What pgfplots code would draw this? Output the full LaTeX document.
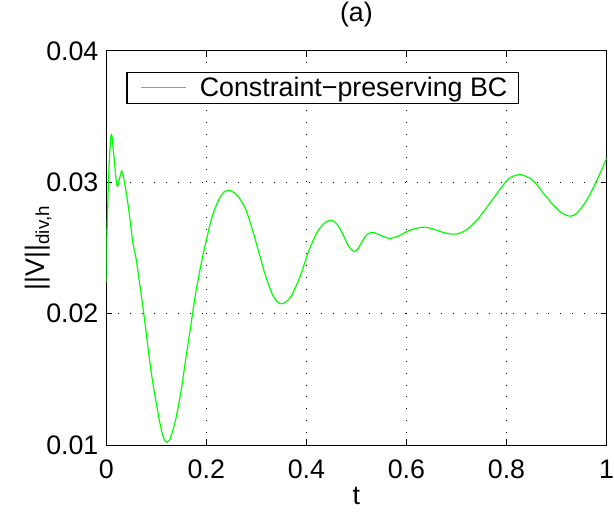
\documentclass[border=0pt]{standalone}
\usepackage{fontspec}
\setmainfont{Liberation Sans}
\usepackage{pgfplots}
\pgfplotsset{compat=1.18}

\definecolor{bcgreen}{RGB}{0,255,0}
\tikzset{bcline/.style={draw=bcgreen, color=bcgreen, line width=1.2bp}}

% divergence norm of V versus time
\pgfplotstableread{
t v
0.0000 0.0224
0.0013 0.0259
0.0053 0.0310
0.0100 0.03364
0.0150 0.0321
0.0211 0.02977
0.0260 0.0302
0.0310 0.03086
0.0350 0.0303
0.0398 0.02922
0.0450 0.0279
0.0497 0.02644
0.0529 0.02543
0.0597 0.02417
0.0663 0.0224
0.0728 0.02063
0.0796 0.01861
0.0862 0.01659
0.0927 0.01483
0.0995 0.01331
0.1060 0.01192
0.1126 0.01078
0.1170 0.01038
0.1214 0.01023
0.1255 0.01035
0.1293 0.01066
0.1393 0.01205
0.1492 0.01407
0.1590 0.01659
0.1690 0.01911
0.1790 0.02164
0.1890 0.02366
0.1990 0.02543
0.2121 0.02745
0.2254 0.02871
0.2350 0.02925
0.2453 0.02939
0.2560 0.02920
0.2652 0.02884
0.2786 0.02795
0.2917 0.02644
0.3050 0.02467
0.3183 0.02290
0.3315 0.02152
0.3420 0.02090
0.3514 0.02076
0.3610 0.02095
0.3713 0.02145
0.3880 0.02290
0.4045 0.02475
0.4200 0.02610
0.4310 0.02669
0.4400 0.02700
0.4497 0.02712
0.4590 0.02690
0.4676 0.02644
0.4760 0.02580
0.4840 0.02517
0.4910 0.02485
0.4974 0.02474
0.5040 0.02500
0.5106 0.02543
0.5200 0.02598
0.5305 0.02619
0.5400 0.02610
0.5503 0.02593
0.5670 0.02573
0.5836 0.02591
0.6020 0.02627
0.6200 0.02650
0.6367 0.02659
0.6530 0.02645
0.6697 0.02623
0.6850 0.02608
0.6996 0.02606
0.7110 0.02620
0.7228 0.02647
0.7427 0.02720
0.7626 0.02820
0.7825 0.02922
0.8024 0.03020
0.8160 0.03050
0.8290 0.03058
0.8420 0.03040
0.8555 0.03005
0.8754 0.02909
0.8953 0.02820
0.9119 0.02763
0.9272 0.02742
0.9370 0.02755
0.9450 0.02783
0.9616 0.02871
0.9816 0.03023
1.0000 0.03180
}\normtable

\begin{document}
\begin{tikzpicture}[font=\fontsize{27}{32}\selectfont]
\begin{axis}[
  scale only axis,
  width=502.3bp, height=396bp,
  xmin=0, xmax=1, ymin=0.01, ymax=0.04,
  xtick={0,0.2,0.4,0.6,0.8,1},
  ytick={0.01,0.02,0.03,0.04},
  yticklabels={0.01,0.02,0.03,0.04},
  scaled y ticks=false,
  scaled x ticks=false,
  /pgf/number format/assume math mode=true,
  xticklabel style={anchor=base, inner sep=0bp, yshift=-33bp},
  yticklabel style={anchor=east, inner sep=0bp, xshift=-7.7bp},
  tick align=inside,
  major tick length=6bp,
  tick style={black, line width=0.8bp},
  axis line style={black, line width=1.2bp},
  grid=major,
  major grid style={black, line width=0.9bp, dash pattern=on 0.9bp off 11.1bp},
  xlabel={t},
  ylabel={||V||\textsubscript{div,h}},
  title={(a)},
  xlabel style={at={(axis description cs:0.5,0)}, anchor=base, inner sep=0bp, yshift=-60bp},
  ylabel style={at={(axis description cs:-0.109,0.5)}, anchor=south, inner sep=0bp},
  title style={at={(axis description cs:0.5,1)}, anchor=base, inner sep=0bp, yshift=23bp},
  legend style={at={(axis description cs:0.0404,0.947)}, anchor=north west,
    draw=black, line width=1.2bp, fill=white,
    inner xsep=0bp, inner ysep=5bp,
    nodes={inner xsep=0bp, inner ysep=0bp},
    font=\fontsize{27}{32}\selectfont},
  legend cell align=left,
  legend image code/.code={\draw[bcline] (14bp,0bp) -- (59bp,0bp);
    \path[draw=none] (0bp,0bp) -- (73bp,0bp);},
]
\addplot[bcline, smooth] table[x=t, y=v] {\normtable};
\addlegendentry{Constraint−preserving BC\hspace*{11bp}}
\end{axis}
\useasboundingbox ([xshift=-106.7bp, yshift=-69bp]current axis.south west)
  rectangle ([xshift=5bp, yshift=51bp]current axis.north east);
\end{tikzpicture}
\end{document}
